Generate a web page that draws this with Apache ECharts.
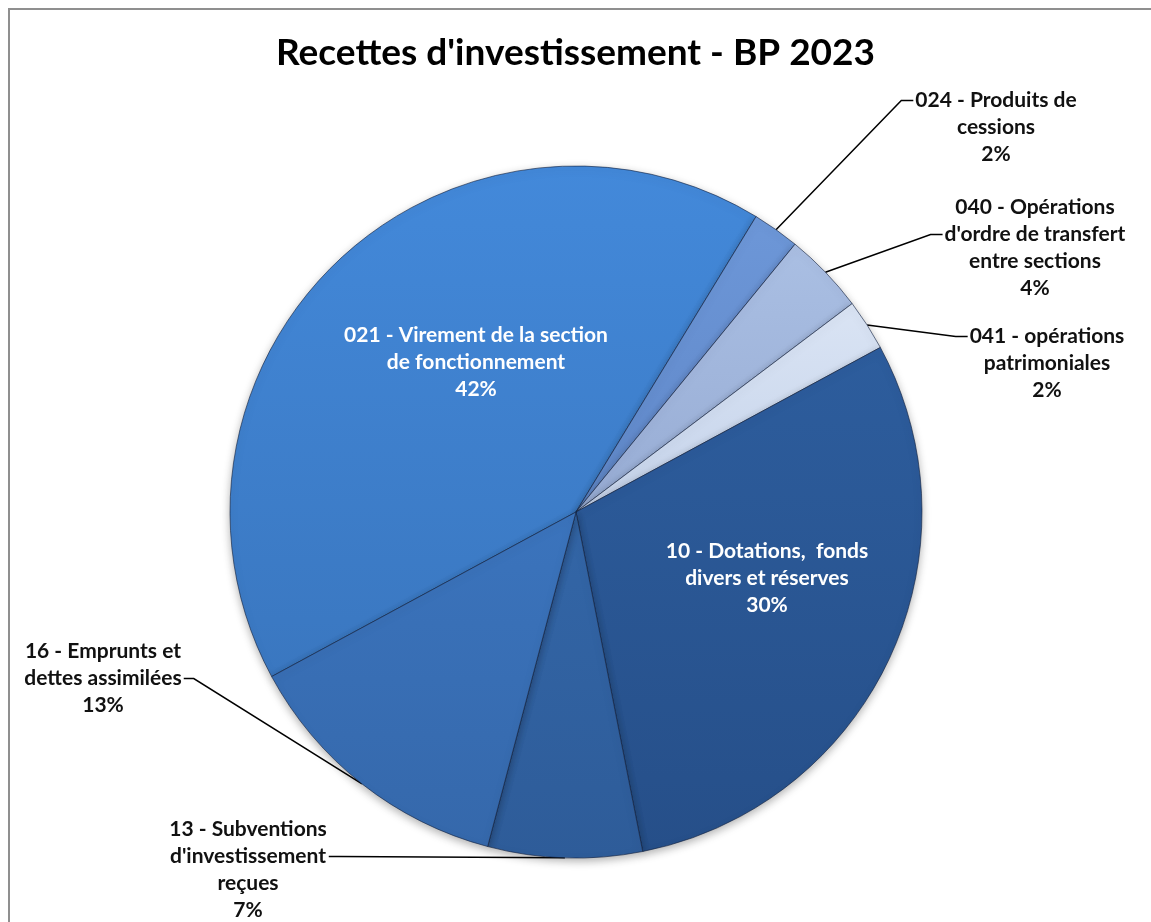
<!DOCTYPE html>
<html>
<head>
<meta charset="utf-8">
<script src="https://cdn.jsdelivr.net/npm/echarts@6/dist/echarts.min.js"></script>
<style>
  html, body { margin: 0; padding: 0; background: #fff; }
  #chart { width: 1151px; height: 922px; }
</style>
</head>
<body>
<div id="chart"></div>
<script>
// postes de recettes (ordre du tableau Excel)
var postes = [
  "021 - Virement de la section\nde fonctionnement",
  "024 - Produits de\ncessions",
  "040 - Opérations\nd'ordre de transfert\nentre sections",
  "041 - opérations\npatrimoniales",
  "10 - Dotations,  fonds\ndivers et réserves",
  "13 - Subventions\nd'investissement\nreçues",
  "16 - Emprunts et\ndettes assimilées"
];
// part en %
var parts = [41.6, 2.2, 3.8, 2.4, 29.8, 7.2, 13.0];

// couleurs haut / bas de chaque part
var couleursHaut = ['#4389da', '#6d97d8', '#aabfe3', '#dae4f4', '#2d5d9d', '#3366a7', '#3b74bd'];
var couleursBas  = ['#3a77c0', '#5f87c8', '#97acd4', '#c5d3ea', '#264f89', '#2e5c99', '#3568ab'];

// position des étiquettes : centre x, haut y, ligne d'accroche, côté
var etiquettes = [
  { x: 476, top: 322, inside: true },
  { x: 996, top: 87,  ligne: 0, cote: 'left' },
  { x: 1035, top: 194, ligne: 1, cote: 'left' },
  { x: 1047, top: 323, ligne: 0, cote: 'left' },
  { x: 767, top: 538, inside: true },
  { x: 248, top: 816, ligne: 1, cote: 'right' },
  { x: 103, top: 638, ligne: 1, cote: 'right' }
];
var hLigne = 27;

var data = [];
for (var i = 0; i < postes.length; i++) {
  var inside = etiquettes[i].inside;
  data.push({
    name: postes[i],
    value: parts[i],
    itemStyle: {
      color: {
        type: 'linear', x: 0, y: 0, x2: 0, y2: 1,
        colorStops: [
          { offset: 0, color: couleursHaut[i] },
          { offset: 1, color: couleursBas[i] }
        ]
      }
    },
    label: {
      position: inside ? 'inside' : 'outside',
      color: inside ? '#ffffff' : '#111111'
    },
    labelLine: { show: !inside }
  });
}

var myChart = echarts.init(document.getElementById('chart'));
var option = {
  backgroundColor: '#ffffff',
  animation: false,
  graphic: [{
    type: 'rect',
    shape: { x: 9, y: 9, width: 1170, height: 940 },
    style: { fill: 'none', stroke: '#8f8f8f', lineWidth: 2 }
  }],
  title: {
    text: "Recettes d'investissement - BP 2023",
    left: 'center',
    top: 30,
    textStyle: { fontFamily: 'Lato', fontWeight: 'bold', fontSize: 37, color: '#000' }
  },
  series: [{
    type: 'pie',
    center: [576, 512],
    radius: [0, 346],
    startAngle: 90 - 241.6,
    clockwise: true,
    avoidLabelOverlap: false,
    data: data,
    itemStyle: {
      borderColor: 'rgba(15,30,60,0.6)',
      borderWidth: 1,
      shadowBlur: 8,
      shadowOffsetY: 3,
      shadowColor: 'rgba(0,0,0,0.3)'
    },
    label: {
      formatter: function (p) {
        return p.name + '\n' + Math.round(p.value) + '%';
      },
      fontFamily: 'Lato',
      fontWeight: 'bold',
      fontSize: 21,
      lineHeight: hLigne,
      align: 'center'
    },
    labelLine: {
      lineStyle: { color: '#000', width: 1.5 }
    },
    labelLayout: function (params) {
      var e = etiquettes[params.dataIndex];
      var w = params.labelRect.width;
      var res = { x: e.x, y: e.top, align: 'center', verticalAlign: 'top' };
      if (!e.inside && params.labelLinePoints) {
        var y = e.top + (e.ligne + 0.5) * hLigne;
        var bord = e.cote === 'left' ? e.x - w / 2 - 2 : e.x + w / 2 + 2;
        var coude = e.cote === 'left' ? bord - 12 : bord + 10;
        res.labelLinePoints = [params.labelLinePoints[0], [coude, y], [bord, y]];
      }
      return res;
    }
  }]
};
myChart.setOption(option);
</script>
</body>
</html>
